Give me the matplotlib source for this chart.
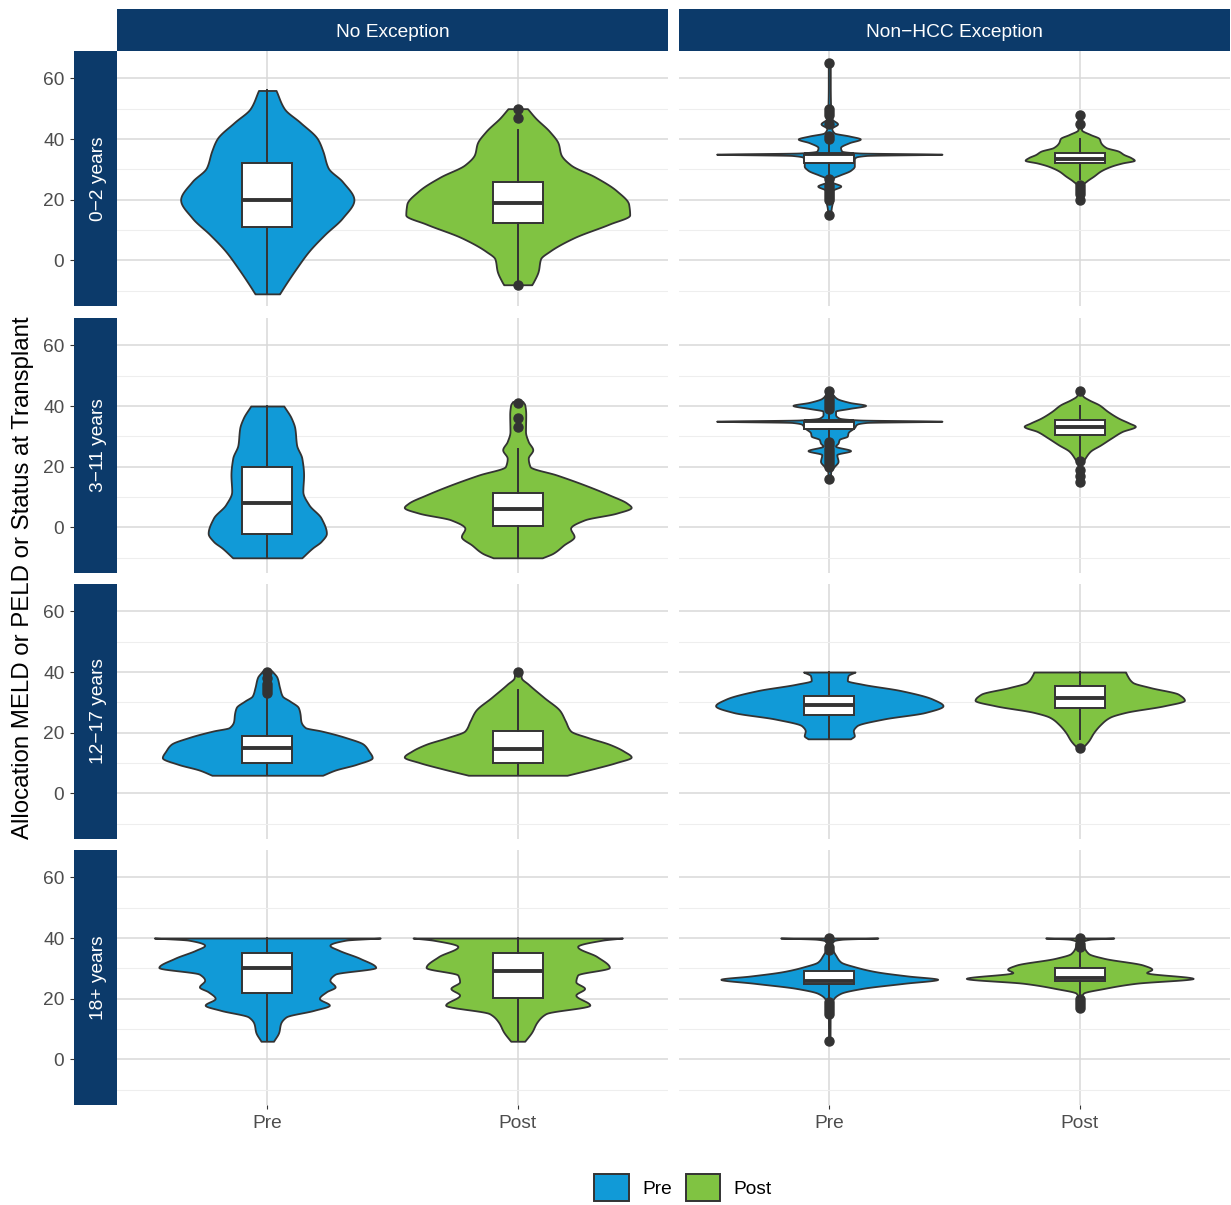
import numpy as np
import matplotlib
matplotlib.use("Agg")
import matplotlib.pyplot as plt
from matplotlib.patches import Patch

plt.rcParams['font.family'] = ['Liberation Sans', 'DejaVu Sans']

# facet labels
col_labels = ['No Exception', 'Non\u2212HCC Exception']
row_labels = ['0\u22122 years', '3\u221211 years', '12\u221217 years', '18+ years']
groups = ['Pre', 'Post']
fill_colors = ['#119AD7', '#80C342']

# violin profiles: score (y) and half width (w, x units)
# box stats: [whisker low, q1, median, q3, whisker high]

# ---- No Exception, 0-2 years
ne02_pre_y = [56, 50, 45.5, 40, 36, 30.5, 26, 20, 14, 8.5, 3, -2.5, -8, -11]
ne02_pre_w = [0.035, 0.068, 0.131, 0.201, 0.222, 0.243, 0.300, 0.346, 0.300, 0.229, 0.166, 0.117, 0.072, 0.049]
ne02_pre_box = [-11, 11, 20, 32, 56]
ne02_pre_out = []
ne02_post_y = [50, 47, 42.5, 38.5, 35, 31.5, 27.5, 23, 18.5, 15, 12, 7.5, 3, 0.5, -3.5, -7, -8]
ne02_post_w = [0.039, 0.07, 0.127, 0.162, 0.172, 0.211, 0.309, 0.394, 0.443, 0.447, 0.366, 0.225, 0.127, 0.091, 0.082, 0.063, 0.056]
ne02_post_box = [-7, 12.3, 19, 26, 43]
ne02_post_out = [50, 47, -8]

# ---- Non-HCC Exception, 0-2 years
nh02_pre_y = [65, 58, 49, 46.5, 45, 43.5, 42, 41, 40, 38.8, 37.2, 36, 35.4, 35, 34.6, 34, 33.3, 31.1, 29.7,
              28.1, 27.3, 25.9, 24.5, 23.1, 20.6, 17.3, 15]
nh02_pre_w = [0.004, 0.004, 0.006, 0.012, 0.033, 0.01, 0.02, 0.08, 0.124, 0.08, 0.045, 0.05, 0.12, 0.45, 0.15,
              0.105, 0.10, 0.10, 0.085, 0.04, 0.018, 0.012, 0.046, 0.015, 0.015, 0.008, 0.005]
nh02_pre_box = [28, 32, 35, 35, 39]
nh02_pre_out = [65, 50, 49, 48, 45, 41, 40, 27, 25, 24, 23, 22, 21, 20, 15]
nh02_post_y = [48, 45, 43.1, 41.5, 40.2, 38.8, 37.2, 36, 34.9, 33.9, 33, 32.1, 31.1, 29.5, 27.8, 26.2, 25.1, 22.5, 20]
nh02_post_w = [0.004, 0.008, 0.007, 0.042, 0.077, 0.084, 0.105, 0.155, 0.176, 0.204, 0.218, 0.169, 0.127, 0.084,
               0.056, 0.028, 0.014, 0.008, 0.004]
nh02_post_box = [27, 32, 33.5, 35.5, 40]
nh02_post_out = [48, 45, 25, 24, 23, 22, 20]

# ---- No Exception, 3-11 years
ne311_pre_y = [40, 36, 32.7, 27.2, 22.8, 17.3, 11.9, 7.5, 3.1, -1.9, -4.6, -6.8, -10]
ne311_pre_w = [0.066, 0.096, 0.11, 0.117, 0.138, 0.145, 0.142, 0.166, 0.215, 0.236, 0.215, 0.18, 0.138]
ne311_pre_box = [-10, -2, 8, 20, 40]
ne311_pre_out = []
ne311_post_y = [41.5, 40.4, 37.2, 31.6, 28.3, 25.6, 22.8, 20.1, 17.3, 14, 10.7, 8, 6.6, 4.7, 2.5, -0.3, -3,
                -5.8, -8.5, -10]
ne311_post_w = [0.02, 0.028, 0.032, 0.031, 0.042, 0.06, 0.042, 0.049, 0.155, 0.267, 0.366, 0.436, 0.453, 0.394,
                0.267, 0.211, 0.225, 0.183, 0.141, 0.098]
ne311_post_box = [-10, 0.5, 6, 11.5, 26]
ne311_post_out = [41, 36, 33]

# ---- Non-HCC Exception, 3-11 years
nh311_pre_y = [45, 43.7, 42.5, 41.2, 40.2, 39.2, 38.3, 37.2, 36, 35.4, 35, 34.6, 34, 32.9, 31.2, 30.1, 29,
               27.8, 26.8, 25.3, 24, 21.8, 20.1, 19, 16]
nh311_pre_w = [0.004, 0.015, 0.03, 0.08, 0.145, 0.08, 0.025, 0.025, 0.04, 0.12, 0.45, 0.15, 0.11, 0.10, 0.075,
               0.072, 0.04, 0.035, 0.025, 0.085, 0.03, 0.035, 0.02, 0.007, 0.004]
nh311_pre_box = [29, 32.5, 35, 35, 38]
nh311_pre_out = [45, 43, 42, 41, 40, 39, 28, 27, 26, 25, 24, 23, 22, 21, 20, 16]
nh311_post_y = [45, 44.3, 43.2, 42.1, 40.4, 38.2, 36, 34.4, 33.3, 31.6, 29.5, 27.2, 25.1, 22.8, 20.6, 18, 15]
nh311_post_w = [0.004, 0.006, 0.014, 0.035, 0.077, 0.112, 0.155, 0.197, 0.222, 0.169, 0.127, 0.084, 0.042,
                0.021, 0.007, 0.004, 0.003]
nh311_post_box = [23, 30.3, 33.2, 35.5, 40]
nh311_post_out = [45, 22, 19, 17, 15]

# ---- No Exception, 12-17 years
ne1217_pre_y = [40.4, 38.2, 34.9, 32.1, 30.5, 28.3, 26.1, 23.9, 21.7, 20.6, 18.4, 16.2, 14, 11.8, 9.6, 7.7, 6]
ne1217_pre_w = [0.018, 0.039, 0.049, 0.06, 0.089, 0.124, 0.131, 0.134, 0.152, 0.215, 0.314, 0.384, 0.405,
                0.419, 0.356, 0.271, 0.221]
ne1217_pre_box = [6, 10, 15, 19, 31]
ne1217_pre_out = [40, 38, 36, 35, 34, 33]
ne1217_post_y = [40.5, 38.2, 36, 31.6, 27.2, 23.9, 20.6, 18.4, 16.2, 14, 12, 10.2, 8, 6]
ne1217_post_w = [0.012, 0.014, 0.042, 0.105, 0.169, 0.19, 0.211, 0.281, 0.366, 0.422, 0.453, 0.394, 0.295, 0.197]
ne1217_post_box = [6, 10, 14.5, 20.5, 34]
ne1217_post_out = [40]

# ---- Non-HCC Exception, 12-17 years
nh1217_pre_y = [40, 38.8, 37.2, 36, 33.9, 31.1, 28.9, 26.7, 24.5, 22.3, 20.6, 19, 18]
nh1217_pre_w = [0.103, 0.075, 0.072, 0.131, 0.285, 0.412, 0.454, 0.384, 0.215, 0.11, 0.096, 0.1, 0.085]
nh1217_pre_box = [18, 26, 29.3, 32, 40]
nh1217_pre_out = []
nh1217_post_y = [40, 38.8, 36.6, 34.9, 32.7, 30.7, 28.9, 26.7, 25.1, 22.8, 20.1, 17.3, 15]
nh1217_post_w = [0.183, 0.19, 0.211, 0.281, 0.394, 0.418, 0.338, 0.183, 0.12, 0.084, 0.056, 0.035, 0.01]
nh1217_post_box = [18, 28, 31.4, 35.3, 40]
nh1217_post_out = [15]

# ---- No Exception, 18+ years
ne18_pre_y = [40, 39.3, 37.6, 36, 33.3, 30.3, 28.1, 26.1, 23.9, 22.3, 20.1, 17.9, 16.2, 14, 11.8, 9, 6]
ne18_pre_w = [0.451, 0.314, 0.25, 0.285, 0.37, 0.433, 0.271, 0.25, 0.271, 0.236, 0.208, 0.248, 0.187, 0.075,
              0.053, 0.046, 0.025]
ne18_pre_box = [6, 22, 30, 35, 40]
ne18_pre_out = []
ne18_post_y = [40, 39.3, 37.2, 33.9, 30.3, 27.8, 25.6, 23.4, 21.2, 17.9, 15.1, 12.3, 9, 6]
ne18_post_w = [0.418, 0.338, 0.239, 0.316, 0.366, 0.239, 0.232, 0.267, 0.232, 0.288, 0.113, 0.077, 0.056, 0.028]
ne18_post_box = [6, 20.4, 29, 35, 40]
ne18_post_out = []

# ---- Non-HCC Exception, 18+ years
nh18_pre_y = [40, 39.6, 39.1, 37.2, 36, 34.4, 32.1, 30.5, 28.9, 27.5, 26.4, 25.1, 23.4, 21.8, 20.1, 17.3, 6]
nh18_pre_w = [0.194, 0.05, 0.018, 0.007, 0.014, 0.025, 0.046, 0.103, 0.187, 0.314, 0.433, 0.3, 0.131, 0.046,
              0.018, 0.004, 0.003]
nh18_pre_box = [20, 25, 26, 29, 35]
nh18_pre_out = [40, 37, 36, 19, 18, 17, 16, 15, 6]
nh18_post_y = [40, 39.6, 38.8, 37.2, 34.9, 33.3, 31.1, 29.7, 28.6, 26.7, 25.1, 23.4, 21.8, 20.1, 17]
nh18_post_w = [0.136, 0.04, 0.014, 0.017, 0.035, 0.098, 0.253, 0.288, 0.267, 0.453, 0.225, 0.098, 0.014, 0.005,
               0.003]
nh18_post_box = [21, 26, 27, 30, 36]
nh18_post_out = [40, 38, 37, 20, 19, 18, 17]

panels = [
    [[(ne02_pre_y, ne02_pre_w, ne02_pre_box, ne02_pre_out), (ne02_post_y, ne02_post_w, ne02_post_box, ne02_post_out)],
     [(nh02_pre_y, nh02_pre_w, nh02_pre_box, nh02_pre_out), (nh02_post_y, nh02_post_w, nh02_post_box, nh02_post_out)]],
    [[(ne311_pre_y, ne311_pre_w, ne311_pre_box, ne311_pre_out), (ne311_post_y, ne311_post_w, ne311_post_box, ne311_post_out)],
     [(nh311_pre_y, nh311_pre_w, nh311_pre_box, nh311_pre_out), (nh311_post_y, nh311_post_w, nh311_post_box, nh311_post_out)]],
    [[(ne1217_pre_y, ne1217_pre_w, ne1217_pre_box, ne1217_pre_out), (ne1217_post_y, ne1217_post_w, ne1217_post_box, ne1217_post_out)],
     [(nh1217_pre_y, nh1217_pre_w, nh1217_pre_box, nh1217_pre_out), (nh1217_post_y, nh1217_post_w, nh1217_post_box, nh1217_post_out)]],
    [[(ne18_pre_y, ne18_pre_w, ne18_pre_box, ne18_pre_out), (ne18_post_y, ne18_post_w, ne18_post_box, ne18_post_out)],
     [(nh18_pre_y, nh18_pre_w, nh18_pre_box, nh18_pre_out), (nh18_post_y, nh18_post_w, nh18_post_box, nh18_post_out)]],
]

# layout in pixels
W, H = 1231, 1205
col_x = [(117, 668), (679, 1230)]
row_y = [(51, 306), (318, 573), (584, 839), (850, 1105)]
strip_top = (9, 51)
strip_left = (74, 117)
ylim = (-15.0, 69.0)
xlim = (0.4, 2.6)
strip_color = '#0C3A6A'
dark = '#333333'
small_fs = 13.8


def smooth_outline(y, w, n=12):
    # monotone cubic (PCHIP) through the read points, so the outline is curved, not angular
    y = np.asarray(y, float)[::-1]
    w = np.asarray(w, float)[::-1]
    h = np.diff(y)
    delta = np.diff(w) / h
    d = np.zeros_like(w)
    for k in range(1, len(w) - 1):
        if delta[k - 1] * delta[k] > 0:
            w1 = 2 * h[k] + h[k - 1]
            w2 = h[k] + 2 * h[k - 1]
            d[k] = (w1 + w2) / (w1 / delta[k - 1] + w2 / delta[k])
    d[0] = delta[0]
    d[-1] = delta[-1]
    ys, ws = [], []
    for k in range(len(h)):
        t = np.linspace(0, 1, n, endpoint=False)
        h00 = 2 * t ** 3 - 3 * t ** 2 + 1
        h10 = t ** 3 - 2 * t ** 2 + t
        h01 = -2 * t ** 3 + 3 * t ** 2
        h11 = t ** 3 - t ** 2
        ys.append(y[k] + t * h[k])
        ws.append(h00 * w[k] + h10 * h[k] * d[k] + h01 * w[k + 1] + h11 * h[k] * d[k + 1])
    ys.append([y[-1]])
    ws.append([w[-1]])
    return np.concatenate(ys), np.clip(np.concatenate(ws), 0.002, None)


fig = plt.figure(figsize=(W / 100, H / 100), dpi=100)


def px_axes(x0, y0, x1, y1):
    return fig.add_axes([x0 / W, 1 - y1 / H, (x1 - x0) / W, (y1 - y0) / H])


for r in range(4):
    for c in range(2):
        ax = px_axes(col_x[c][0], row_y[r][0], col_x[c][1], row_y[r][1])
        ax.set_xlim(*xlim)
        ax.set_ylim(*ylim)
        for s in ax.spines.values():
            s.set_visible(False)
        ax.set_yticks([0, 20, 40, 60])
        ax.set_yticks([-10, 10, 30, 50], minor=True)
        ax.set_xticks([1, 2])
        ax.grid(which='major', color='#D9D9D9', linewidth=1.1)
        ax.grid(which='minor', axis='y', color='#EEEEEE', linewidth=0.8)
        ax.set_axisbelow(True)
        ax.tick_params(axis='y', which='both', left=False, labelleft=False)
        if r == 3:
            ax.set_xticklabels(groups)
            ax.tick_params(axis='x', length=3, width=0.8, color=dark, labelsize=small_fs,
                           labelcolor='#4D4D4D', pad=4)
        else:
            ax.tick_params(axis='x', bottom=False, labelbottom=False)

        for g in range(2):
            y, w, box, out = panels[r][c][g]
            ys, ws = smooth_outline(y, w)
            pos = g + 1
            ax.fill_betweenx(ys, pos - ws, pos + ws, facecolor=fill_colors[g], edgecolor=dark,
                             linewidth=1.3, zorder=2)
            stats = [dict(whislo=box[0], q1=box[1], med=box[2], q3=box[3], whishi=box[4], fliers=out)]
            ax.bxp(stats, positions=[pos], widths=0.2, patch_artist=True, showcaps=False,
                   manage_ticks=False, zorder=3,
                   boxprops=dict(facecolor='white', edgecolor=dark, linewidth=1.4),
                   medianprops=dict(color=dark, linewidth=2.8, solid_capstyle='butt'),
                   whiskerprops=dict(color=dark, linewidth=1.4),
                   flierprops=dict(marker='o', markerfacecolor=dark, markeredgecolor=dark,
                                   markersize=6.5, linestyle='none'))

        if c == 0:
            sax = px_axes(strip_left[0], row_y[r][0], strip_left[1], row_y[r][1])
            sax.set_facecolor(strip_color)
            sax.set_ylim(*ylim)
            sax.set_xticks([])
            sax.set_yticks([0, 20, 40, 60])
            sax.tick_params(axis='y', length=3, width=0.8, color=dark, labelsize=small_fs,
                            labelcolor='#4D4D4D', pad=4)
            for s in sax.spines.values():
                s.set_visible(False)
            sax.text(0.56, 0.5, row_labels[r], rotation=90, color='white', fontsize=small_fs,
                     ha='center', va='center', transform=sax.transAxes)

for c in range(2):
    tax = px_axes(col_x[c][0], strip_top[0], col_x[c][1], strip_top[1])
    tax.set_facecolor(strip_color)
    tax.set_xticks([])
    tax.set_yticks([])
    for s in tax.spines.values():
        s.set_visible(False)
    tax.text(0.5, 0.44, col_labels[c], color='white', fontsize=small_fs, ha='center', va='center',
             transform=tax.transAxes)

fig.text(23 / W, 1 - 578 / H, 'Allocation MELD or PELD or Status at Transplant', rotation=90,
         fontsize=17.3, ha='center', va='center', color='black')

handles = [Patch(facecolor=fill_colors[i], edgecolor=dark, linewidth=1.4, label=groups[i]) for i in range(2)]
fig.legend(handles=handles, loc='center', bbox_to_anchor=(683 / W, 1 - 1187.5 / H), ncol=2, frameon=False,
           fontsize=small_fs, handlelength=1.8, handleheight=1.8, handletextpad=0.7, columnspacing=0.7,
           borderpad=0)

fig.savefig('out.png', dpi=100)
